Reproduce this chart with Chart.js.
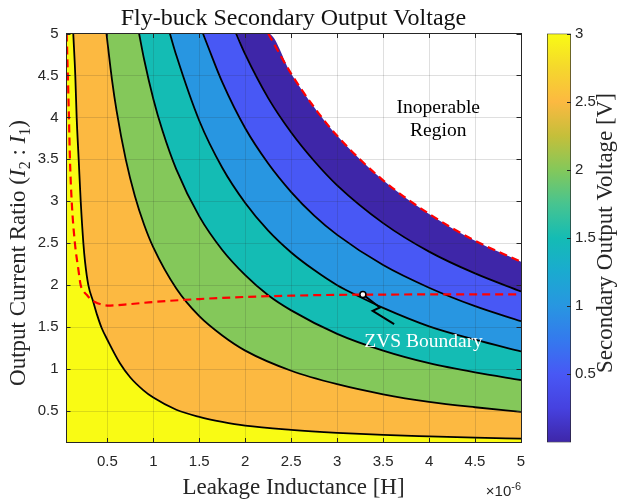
<!DOCTYPE html>
<html>
<head>
<meta charset="utf-8">
<script src="https://cdn.jsdelivr.net/npm/chart.js@4.4.1/dist/chart.umd.min.js"></script>
<style>
  html, body { margin: 0; padding: 0; background: #fff; }
  #wrap { position: relative; width: 626px; height: 504px; overflow: hidden; }
  #wrap canvas { position: absolute; left: 0; top: 0; }
</style>
</head>
<body>
<div id="wrap">
  <canvas id="main" width="626" height="504"></canvas>
  <canvas id="cbar" width="626" height="504"></canvas>
</div>
<script>
// ---- axis ranges and tick labels -------------------------------------------
// x: leakage inductance in units of 1e-6 H, y: output current ratio I2 : I1
const xMin = 0.05, xMax = 5;
const yMin = 0.125, yMax = 5;
const xTicks = [0.5, 1, 1.5, 2, 2.5, 3, 3.5, 4, 4.5, 5];
const xTickLabels = ['0.5', '1', '1.5', '2', '2.5', '3', '3.5', '4', '4.5', '5'];
const yTicks = [0.5, 1, 1.5, 2, 2.5, 3, 3.5, 4, 4.5, 5];
const yTickLabels = ['0.5', '1', '1.5', '2', '2.5', '3', '3.5', '4', '4.5', '5'];
const cbRange = [0, 3];
const cbTicks = [0.5, 1, 1.5, 2, 2.5, 3];
const cbTickLabels = ['0.5', '1', '1.5', '2', '2.5', '3'];

// ---- iso-voltage contour lines, points are [L (uH), I2:I1] ------------------
const line30 = [[0.129, 5.00], [0.151, 4.50], [0.166, 4.00], [0.188, 3.50], [0.210, 3.00],
  [0.239, 2.50], [0.257, 2.28], [0.293, 2.00], [0.347, 1.80], [0.390, 1.64], [0.438, 1.49],
  [0.500, 1.35], [0.637, 1.07], [0.750, 0.90], [0.890, 0.75], [1.000, 0.66], [1.250, 0.515],
  [1.500, 0.43], [1.750, 0.37], [2.000, 0.325], [2.500, 0.275], [3.000, 0.24], [3.500, 0.215],
  [4.000, 0.198], [4.500, 0.183], [5.000, 0.17]];
const line25 = [[0.49, 5.00], [0.55, 4.45], [0.60, 4.08], [0.70, 3.50], [0.80, 3.06], [0.90, 2.72],
  [1.00, 2.45], [1.25, 1.96], [1.50, 1.63], [1.75, 1.40], [2.00, 1.22], [2.50, 0.98],
  [3.00, 0.82], [3.50, 0.70], [4.00, 0.61], [4.50, 0.545], [5.00, 0.49]];
const line20 = [[0.845, 5.00], [0.90, 4.69], [1.00, 4.22], [1.10, 3.84], [1.25, 3.38], [1.50, 2.82],
  [1.75, 2.42], [2.00, 2.12], [2.25, 1.88], [2.50, 1.70], [3.00, 1.42], [3.50, 1.22],
  [4.00, 1.07], [4.50, 0.96], [5.00, 0.87]];
const line15 = [[1.18, 5.00], [1.25, 4.74], [1.50, 3.96], [1.75, 3.40], [2.00, 2.98], [2.25, 2.65],
  [2.50, 2.39], [2.75, 2.18], [3.00, 2.00], [3.25, 1.86], [3.50, 1.73], [4.00, 1.51],
  [4.50, 1.35], [5.00, 1.21]];
const line10 = [[1.54, 5.00], [1.60, 4.83], [1.75, 4.42], [2.00, 3.87], [2.25, 3.45], [2.50, 3.11],
  [2.75, 2.83], [3.00, 2.60], [3.50, 2.24], [4.00, 1.97], [4.50, 1.75], [5.00, 1.57]];
const line05 = [[1.90, 5.00], [2.00, 4.75], [2.25, 4.23], [2.50, 3.82], [2.75, 3.48], [3.00, 3.19],
  [3.50, 2.74], [4.00, 2.40], [4.50, 2.14], [5.00, 1.925]];
// edge of the operable region
const limitLine = [[2.25, 5.00], [2.50, 4.52], [2.75, 4.12], [3.00, 3.78], [3.50, 3.25],
  [4.00, 2.85], [4.50, 2.53], [5.00, 2.28]];
// zero-voltage-switching boundary
const zvsLine = [[0.057, 5.00], [0.070, 4.50], [0.082, 4.00], [0.093, 3.50], [0.112, 3.00],
  [0.147, 2.50], [0.183, 2.20], [0.210, 2.00], [0.240, 1.93], [0.275, 1.885], [0.320, 1.83],
  [0.365, 1.80], [0.420, 1.775], [0.500, 1.757], [0.750, 1.775], [1.000, 1.80], [1.500, 1.835],
  [2.000, 1.86], [2.500, 1.875], [3.000, 1.885], [3.500, 1.888], [4.000, 1.89], [4.500, 1.89],
  [5.000, 1.89]];
// pointer from the label to the boundary
const zvsPointer = [[3.28, 1.89], [3.465, 1.735], [3.386, 1.694], [3.62, 1.536]];
// text notes, anchored at the first line's baseline
const notes = [
  { lines: ['Inoperable', 'Region'], x: 4.10, y: 4.05, color: '#000000' },
  { lines: ['ZVS Boundary'], x: 3.94, y: 1.265, color: '#ffffff' }
];

// ---- colours ---------------------------------------------------------------
// band fills, from the 3 V band (lower left) to the 0–0.5 V band
const bandColors = ['#F9FB14', '#FCB941', '#84C85A', '#14BCB4', '#2896E1', '#4858F5', '#3E26A8'];
const parula = [[0, '#3E26A8'], [0.083, '#4641DF'], [0.167, '#4858F5'], [0.25, '#3479EE'],
  [0.333, '#2896E1'], [0.42, '#1AABCF'], [0.5, '#14BCB4'], [0.583, '#47C490'],
  [0.667, '#84C85A'], [0.75, '#C5BF3A'], [0.833, '#FCB941'], [0.917, '#F5D82C'], [1, '#F9FB14']];
const axisGray = '#262626';
const gridGray = 'rgba(38,38,38,0.15)';
const SERIF = '"Liberation Serif", "Times New Roman", serif';
const SANS = '"Liberation Sans", Arial, Helvetica, sans-serif';

// ---- helpers ---------------------------------------------------------------
const toXY = pts => pts.map(([x, y]) => ({ x, y }));
// run a band edge along the top border to the left edge so its fill covers that strip
const toEdge = pts => [[xMin, yMax], ...pts];

function bandSet(pts, fillColor) {
  return {
    data: toXY(toEdge(pts)),
    xAxisID: 'x', yAxisID: 'y',
    fill: 'start',
    backgroundColor: fillColor,
    borderColor: 'rgba(0,0,0,0)',
    borderWidth: 0,
    pointRadius: 0,
    cubicInterpolationMode: 'monotone',
    clip: 0
  };
}

function strokeSet(pts, color, width, dash) {
  return {
    data: toXY(pts),
    xAxisID: 'x', yAxisID: 'y',
    fill: false,
    borderColor: color,
    borderWidth: width,
    borderDash: dash || [],
    pointRadius: 0,
    cubicInterpolationMode: 'monotone',
    clip: 0
  };
}

function drawRich(ctx, parts, x, y, angle, align) {
  ctx.save();
  ctx.translate(x, y);
  ctx.rotate(angle || 0);
  let total = 0;
  parts.forEach(p => { ctx.font = p.font; total += ctx.measureText(p.t).width; });
  let cx = align === 'right' ? -total : -total / 2;
  ctx.textAlign = 'left';
  ctx.textBaseline = 'alphabetic';
  parts.forEach(p => {
    ctx.font = p.font;
    ctx.fillStyle = p.color || axisGray;
    ctx.fillText(p.t, cx, p.dy || 0);
    cx += ctx.measureText(p.t).width;
  });
  ctx.restore();
}

// ---- decorations: inner ticks, notes, titles --------------------------------
const decor = {
  id: 'decor',
  afterDraw(chart) {
    const { ctx, chartArea: a, scales } = chart;
    const sx = scales.x, sy = scales.y;
    const tl = 4.5;
    ctx.save();
    ctx.strokeStyle = axisGray;
    ctx.lineWidth = 1;
    ctx.beginPath();
    xTicks.forEach(v => {
      const px = Math.round(sx.getPixelForValue(v)) + 0.5;
      ctx.moveTo(px, a.bottom); ctx.lineTo(px, a.bottom - tl);
      ctx.moveTo(px, a.top); ctx.lineTo(px, a.top + tl);
    });
    yTicks.forEach(v => {
      const py = Math.round(sy.getPixelForValue(v)) + 0.5;
      ctx.moveTo(a.left, py); ctx.lineTo(a.left + tl, py);
      ctx.moveTo(a.right, py); ctx.lineTo(a.right - tl, py);
    });
    ctx.stroke();

    // notes inside the plot
    ctx.font = '19.5px ' + SERIF;
    ctx.textAlign = 'center';
    ctx.textBaseline = 'alphabetic';
    notes.forEach(n => {
      ctx.fillStyle = n.color;
      const px = sx.getPixelForValue(n.x), py = sy.getPixelForValue(n.y);
      n.lines.forEach((t, i) => ctx.fillText(t, px, py + i * 22.3));
    });
    ctx.restore();

    const cxPlot = (a.left + a.right) / 2;
    // title
    drawRich(ctx, [{ t: 'Fly-buck Secondary Output Voltage', font: '24px ' + SERIF, color: '#111' }],
      cxPlot, 25, 0);
    // x label and exponent
    drawRich(ctx, [{ t: 'Leakage Inductance [H]', font: '23px ' + SERIF }], cxPlot, 493.5, 0);
    drawRich(ctx, [
      { t: '\u00d710', font: '15px ' + SANS },
      { t: '-6', font: '11px ' + SANS, dy: -6 }
    ], a.right, 496, 0, 'right');
    // y label
    drawRich(ctx, [
      { t: 'Output Current Ratio (', font: '23px ' + SERIF },
      { t: 'I', font: 'italic 23px ' + SERIF },
      { t: '2', font: '16px ' + SERIF, dy: 5 },
      { t: ' : ', font: '23px ' + SERIF },
      { t: 'I', font: 'italic 23px ' + SERIF },
      { t: '1', font: '16px ' + SERIF, dy: 5 },
      { t: ')', font: '23px ' + SERIF }
    ], 25, 253, -Math.PI / 2);
  }
};

// ---- main contour plot ------------------------------------------------------
// dataset 0 is drawn last (on top); band fills go lowest, the 3 V band above the rest
const datasets = [
  { // pointer to the ZVS boundary
    data: toXY(zvsPointer), xAxisID: 'x', yAxisID: 'y', fill: false,
    borderColor: '#000', borderWidth: 2, tension: 0,
    pointRadius: ctx => ctx.dataIndex === 0 ? 3 : 0,
    pointBackgroundColor: '#fff', pointBorderColor: '#000', pointBorderWidth: 1.5,
    clip: 0
  },
  strokeSet(zvsLine, '#FF0000', 2.2, [8, 5]),
  strokeSet(limitLine, '#FF0000', 2.2, [8, 5]),
  strokeSet(line30, '#000', 1.8),
  strokeSet(line25, '#000', 1.8),
  strokeSet(line20, '#000', 1.8),
  strokeSet(line15, '#000', 1.8),
  strokeSet(line10, '#000', 1.8),
  strokeSet(line05, '#000', 1.8),
  bandSet(line30, bandColors[0]),
  bandSet(line25, bandColors[1]),
  bandSet(line20, bandColors[2]),
  bandSet(line15, bandColors[3]),
  bandSet(line10, bandColors[4]),
  bandSet(line05, bandColors[5]),
  bandSet(limitLine, bandColors[6])
];

const tickFont = { family: SANS, size: 15 };

new Chart(document.getElementById('main'), {
  type: 'line',
  data: { datasets },
  options: {
    responsive: false,
    devicePixelRatio: 1,
    animation: false,
    events: [],
    layout: { padding: 0 },
    plugins: { legend: { display: false }, tooltip: { enabled: false }, title: { display: false } },
    scales: {
      x: {
        type: 'linear', position: 'bottom', min: xMin, max: xMax,
        afterFit: s => { s.height = 61.5; },
        afterBuildTicks: s => { s.ticks = xTicks.map(v => ({ value: v })); },
        ticks: { callback: (v, i) => xTickLabels[i], font: tickFont, color: axisGray,
          padding: 10, maxRotation: 0, autoSkip: false },
        grid: { color: gridGray, lineWidth: 1, drawTicks: false, z: 1 },
        border: { color: axisGray, width: 1, z: 2 }
      },
      y: {
        type: 'linear', position: 'left', min: yMin, max: yMax,
        afterFit: s => { s.width = 66; },
        afterBuildTicks: s => { s.ticks = yTicks.map(v => ({ value: v })); },
        ticks: { callback: (v, i) => yTickLabels[i], font: tickFont, color: axisGray,
          padding: 7.5, autoSkip: false },
        grid: { color: gridGray, lineWidth: 1, drawTicks: false, z: 1 },
        border: { color: axisGray, width: 1, z: 2 }
      },
      xTop: {
        type: 'linear', position: 'top', min: xMin, max: xMax,
        afterFit: s => { s.height = 33.5; },
        ticks: { display: false },
        grid: { display: false, drawTicks: false },
        border: { color: axisGray, width: 1, z: 2 }
      },
      yRight: {
        type: 'linear', position: 'right', min: yMin, max: yMax,
        afterFit: s => { s.width = 105; },
        ticks: { display: false },
        grid: { display: false, drawTicks: false },
        border: { color: axisGray, width: 1, z: 2 }
      }
    }
  },
  plugins: [decor]
});

// ---- colour bar ------------------------------------------------------------
const cbarDecor = {
  id: 'cbarDecor',
  afterDraw(chart) {
    const { ctx, chartArea: a, scales } = chart;
    ctx.save();
    ctx.strokeStyle = axisGray;
    ctx.lineWidth = 1;
    ctx.beginPath();
    cbTicks.forEach(v => {
      const py = Math.round(scales.y.getPixelForValue(v)) + 0.5;
      ctx.moveTo(a.right, py); ctx.lineTo(a.right - 4, py);
    });
    ctx.stroke();
    ctx.restore();
    drawRich(ctx, [{ t: 'Secondary Output Voltage [V]', font: '23px ' + SERIF }],
      612, 233, -Math.PI / 2);
  }
};

new Chart(document.getElementById('cbar'), {
  type: 'bar',
  data: {
    labels: [''],
    datasets: [{
      data: [cbRange],
      backgroundColor: ctx => {
        const ch = ctx.chart;
        if (!ch.chartArea) return bandColors[3];
        const y0 = ch.scales.y.getPixelForValue(cbRange[0]);
        const y1 = ch.scales.y.getPixelForValue(cbRange[1]);
        const g = ch.ctx.createLinearGradient(0, y0, 0, y1);
        parula.forEach(([f, c]) => g.addColorStop(f, c));
        return g;
      },
      borderColor: axisGray,
      borderWidth: 1,
      borderSkipped: false,
      barPercentage: 1,
      categoryPercentage: 1
    }]
  },
  options: {
    responsive: false,
    devicePixelRatio: 1,
    animation: false,
    events: [],
    layout: { padding: { left: 547, top: 33.5, bottom: 61.5, right: 0 } },
    plugins: { legend: { display: false }, tooltip: { enabled: false } },
    scales: {
      x: { display: false },
      y: {
        position: 'right', min: cbRange[0], max: cbRange[1],
        afterFit: s => { s.width = 55; },
        afterBuildTicks: s => { s.ticks = cbTicks.map(v => ({ value: v })); },
        ticks: { callback: (v, i) => cbTickLabels[i], font: tickFont, color: axisGray, padding: 4 },
        grid: { display: false, drawTicks: false },
        border: { display: false }
      }
    }
  },
  plugins: [cbarDecor]
});
</script>
</body>
</html>
